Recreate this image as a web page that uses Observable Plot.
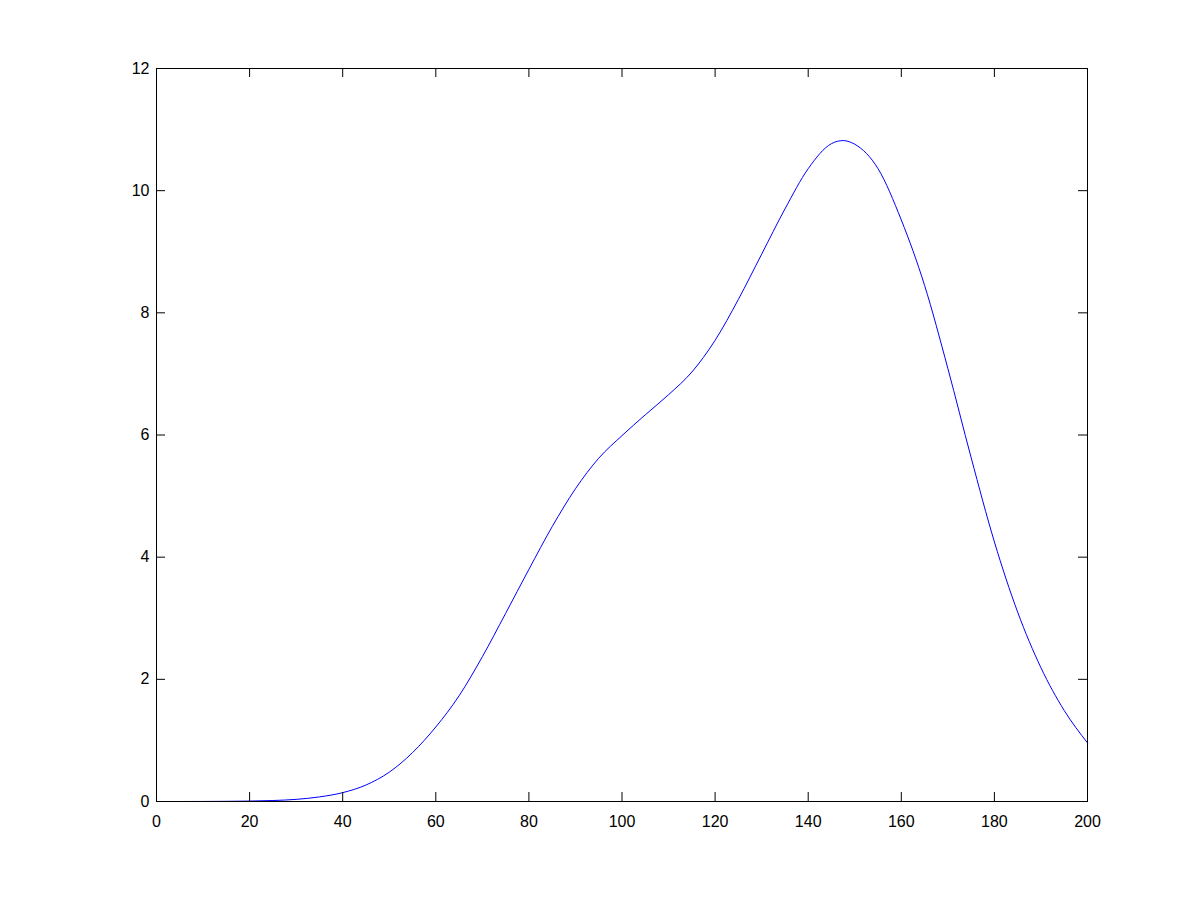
<!DOCTYPE html>
<html>
<head>
<meta charset="utf-8">
<script src="https://cdn.jsdelivr.net/npm/d3@7"></script>
<script src="https://cdn.jsdelivr.net/npm/@observablehq/plot@0.6"></script>
<style>
  html, body { margin: 0; padding: 0; background: #fff; }
  #chart svg { display: block; }
</style>
</head>
<body>
<div id="chart"></div>
<script>
const xValues = [0, 5, 10, 15, 20, 25, 30, 35, 40, 45, 50, 55, 60, 65, 70, 75, 80, 85, 90, 95, 100,
  105, 110, 115, 120, 125, 130, 135, 140, 145, 147.5, 150, 155, 160, 165, 170, 175, 180, 185, 190, 195, 200];
const yValues = [0, 0, 0.001, 0.003, 0.007, 0.016, 0.035, 0.075, 0.145, 0.27, 0.48, 0.80, 1.22, 1.73, 2.37, 3.08, 3.80, 4.50, 5.12, 5.62, 5.99,
  6.33, 6.66, 7.03, 7.55, 8.22, 8.96, 9.70, 10.36, 10.77, 10.82, 10.76, 10.36, 9.52, 8.45, 7.09, 5.63, 4.25, 3.10, 2.19, 1.49, 0.96];
const xTicks = [0, 20, 40, 60, 80, 100, 120, 140, 160, 180, 200];
const yTicks = [0, 2, 4, 6, 8, 10, 12];

const data = xValues.map((x, i) => ({x, y: yValues[i]}));

const W = 1201, H = 900;
const mL = 156, mR = 114, mT = 68, mB = 99;
const innerW = W - mL - mR, innerH = H - mT - mB;
const tick = 9;

const chart = Plot.plot({
  width: W,
  height: H,
  marginLeft: mL,
  marginRight: mR,
  marginTop: mT,
  marginBottom: mB,
  style: {fontFamily: "'Liberation Sans', Arial, Helvetica, sans-serif", fontSize: "16px", background: "#fff", color: "#000"},
  x: {domain: [0, 200]},
  y: {domain: [0, 12]},
  marks: [
    Plot.line(data, {x: "x", y: "y", stroke: "#0000ff", strokeWidth: 1, curve: "monotone-x"}),
    Plot.tickX(xTicks, {x: d => d, stroke: "#000", insetTop: innerH - tick}),
    Plot.tickX(xTicks, {x: d => d, stroke: "#000", insetBottom: innerH - tick}),
    Plot.tickY(yTicks, {y: d => d, stroke: "#000", insetRight: innerW - tick}),
    Plot.tickY(yTicks, {y: d => d, stroke: "#000", insetLeft: innerW - tick}),
    Plot.frame({stroke: "#000", strokeWidth: 1}),
    Plot.axisX(xTicks, {tickSize: 0, tickPadding: 14, label: null, fill: "#000", tickFormat: d => String(d)}),
    Plot.axisY(yTicks, {tickSize: 0, tickPadding: 7, label: null, fill: "#000", tickFormat: d => String(d)})
  ]
});
document.getElementById("chart").appendChild(chart);
</script>
</body>
</html>
